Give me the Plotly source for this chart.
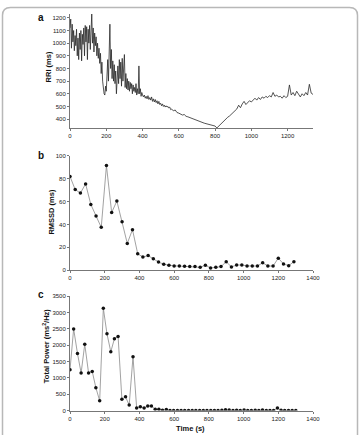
import plotly.graph_objects as go

# ---------------- DATA ----------------
# Panel a: RRI (ms) time series (segments with fixed sampling step)
rri_seg1_t0, rri_seg1_step = 0, 4
rri_seg1 = [1120, 1190, 960, 1150, 1010, 1100,
            940, 1060, 980, 1110, 900,
            1040, 870, 1080, 950, 1100,
            860, 1070, 990, 1120, 900,
            1140, 1010, 1130, 870, 1110,
            1000, 1140, 950, 1100, 1230,
            1000, 1120, 930, 1080, 980,
            1050, 900, 1000, 880, 960,
            840, 920, 760, 850, 700,
            640, 600, 590, 660, 620,
            760, 870, 700, 880, 1150,
            800, 950, 720, 860, 700,
            830, 680, 780, 600, 750,
            820, 680, 870, 720, 850,
            660, 880, 700, 800, 910,
            650, 760, 640, 720, 630,
            700, 620, 690, 640, 680,
            600, 670, 620, 650, 610,
            680, 590, 640, 600, 820,
            600, 640, 580, 610, 590]
rri_seg2_t0, rri_seg2_step = 405, 5
rri_seg2 = [575, 590, 565, 580, 560, 585, 555, 570, 550, 575, 540, 560, 535, 555, 530, 545,
            520, 540, 515, 525, 505, 520, 500, 510, 495, 505, 495, 500, 488, 495, 475, 480]
rri_seg3_t0, rri_seg3_step = 570, 10
rri_seg3 = [465, 472, 452, 447, 440, 432, 436, 422, 418, 412, 405, 400, 393, 390, 383, 378,
            374, 368, 364, 360, 356, 351, 349, 345, 330]
rri_seg4_t0, rri_seg4_step = 820, 10
rri_seg4 = [345, 360, 375, 390, 400, 415, 425, 440, 450, 465, 480, 510, 490, 520, 540, 515,
            530, 545, 535, 550, 565, 550, 570, 555, 575, 565, 580, 570, 585, 575, 610, 580,
            590, 575, 580, 565, 585, 570, 580, 670, 590, 610, 585, 620, 595, 575, 600, 585,
            610, 590, 675, 605, 595]

# Panel b: RMSSD (ms), one value every 30 s
rmssd_t = [0, 30, 60, 90, 120, 150, 180, 210, 240, 270, 300, 330, 360, 390, 420, 450, 480,
           510, 540, 570, 600, 630, 660, 690, 720, 750, 780, 810, 840, 870, 900, 930, 960,
           990, 1020, 1050, 1080, 1110, 1140, 1170, 1200, 1230, 1260, 1290]
rmssd = [82, 70.5, 67.5, 75.5, 57.5, 47.5, 37.5, 91.5, 50.5, 60.5, 42.5, 23.5, 35.5, 14.5,
         11.5, 12.8, 10, 7.2, 5.2, 4.4, 3.8, 3.7, 3.4, 3.2, 3.2, 2.6, 4.3, 2, 2.6, 3.2, 7.5,
         2.9, 4.6, 4.6, 3.8, 3.7, 3.7, 6.6, 3.7, 3.7, 10.6, 5.5, 4, 7.5]

# Panel c: Total power (ms^2/Hz)
tp_t = [0, 21, 43, 64, 85, 107, 128, 149, 171, 192, 213, 235, 256, 277, 299, 320, 341, 363,
        384, 405, 427, 448, 469, 491, 512, 533, 555, 576, 597, 619, 640, 661, 683, 704, 725,
        747, 768, 789, 811, 832, 853, 875, 896, 917, 939, 960, 981, 1003, 1024, 1045, 1067,
        1088, 1109, 1131, 1152, 1173, 1195, 1216, 1237, 1259, 1280, 1301]
tp = [1250, 2500, 1750, 1150, 2030, 1150, 1200, 700, 300, 3130, 2350, 1800, 2200, 2270, 350,
      420, 170, 1650, 80, 120, 80, 140, 140, 40, 40, 10, 30, 5, 5, 5, 5, 5, 5, 5, 5, 5, 5, 5,
      5, 5, 5, 10, 25, 15, 5, 10, 5, 20, 5, 5, 10, 5, 20, 5, 5, 5, 80, 10, 5, 5, 5, 5]

a_yticks = [400, 500, 600, 700, 800, 900, 1000, 1100, 1200]
a_xticks = [0, 200, 400, 600, 800, 1000, 1200]
b_yticks = [0, 20, 40, 60, 80, 100]
c_yticks = [0, 500, 1000, 1500, 2000, 2500, 3000, 3500]
bc_xticks = [0, 200, 400, 600, 800, 1000, 1200, 1400]

# ---------------- build series ----------------
rri_t, rri = [], []
for t0, st, vals in [(rri_seg1_t0, rri_seg1_step, rri_seg1), (rri_seg2_t0, rri_seg2_step, rri_seg2),
                     (rri_seg3_t0, rri_seg3_step, rri_seg3), (rri_seg4_t0, rri_seg4_step, rri_seg4)]:
    for i, v in enumerate(vals):
        rri_t.append(t0 + i * st)
        rri.append(v)

# ---------------- layout geometry ----------------
W, H = 360, 435
L, R = 70, 47
PW = W - L - R

def px(x):
    return (x - L) / PW

def py(y):
    return 1 - y / H

FONT = "Arial, Liberation Sans, Helvetica, sans-serif"

fig = go.Figure()
fig.add_trace(go.Scatter(x=rri_t, y=rri, mode="lines", line=dict(color="#2a2a2a", width=0.8),
                         xaxis="x", yaxis="y", showlegend=False))
fig.add_trace(go.Scatter(x=rmssd_t, y=rmssd, mode="lines+markers",
                         line=dict(color="#8a8a8a", width=0.8),
                         marker=dict(color="#111", size=3.5, symbol="circle"),
                         xaxis="x2", yaxis="y2", showlegend=False))
fig.add_trace(go.Scatter(x=tp_t, y=tp, mode="lines+markers",
                         line=dict(color="#8a8a8a", width=0.8),
                         marker=dict(color="#111", size=3.5, symbol="circle"),
                         xaxis="x3", yaxis="y3", showlegend=False))

ax_common = dict(showline=True, linecolor="#777", linewidth=1, ticks="outside", ticklen=2,
                 tickcolor="#777", tickwidth=1, showgrid=False, zeroline=False,
                 tickfont=dict(family=FONT, size=6, color="#222"), fixedrange=True)

fig.update_layout(
    width=W, height=H, margin=dict(l=L, r=R, t=0, b=0),
    paper_bgcolor="white", plot_bgcolor="white",
    xaxis=dict(ax_common, domain=[0, 1], range=[0, 1340], tickvals=a_xticks, anchor="y"),
    yaxis=dict(ax_common, domain=[py(126.7), py(11.2)], range=[330, 1230], tickvals=a_yticks, anchor="x"),
    xaxis2=dict(ax_common, domain=[0, 1], range=[0, 1400], tickvals=bc_xticks, anchor="y2"),
    yaxis2=dict(ax_common, domain=[py(271), py(155)], range=[0, 100], tickvals=b_yticks, anchor="x2"),
    xaxis3=dict(ax_common, domain=[0, 1], range=[0, 1400], tickvals=bc_xticks, anchor="y3"),
    yaxis3=dict(ax_common, domain=[py(413.3), py(297.3)], range=[0, 3500], tickvals=c_yticks, anchor="x3"),
)

def ann(text, x, y, size=7.5, angle=0, bold=True):
    fig.add_annotation(text=f"<b>{text}</b>" if bold else text, x=px(x), y=py(y),
                       xref="paper", yref="paper", showarrow=False, textangle=angle,
                       xanchor="center", yanchor="middle",
                       font=dict(family=FONT, size=size, color="#111"))

ann("RRI (ms)", 48.3, 65, angle=-90)
ann("RMSSD (ms)", 51.5, 212, angle=-90)
ann("Total Power (ms<sup>2</sup>/Hz)", 46, 348, angle=-90)
ann("Time (s)", 190, 431)
ann("a", 41, 14.5, size=10)
ann("b", 41, 154.5, size=10)
ann("c", 41, 296, size=10)

# rounded frame
x0, x1, y0, y1, r = 2.5, 357.5, 4.5, 470, 8
path = (f"M {px(x0 + r)},{py(y0)} L {px(x1 - r)},{py(y0)} Q {px(x1)},{py(y0)} {px(x1)},{py(y0 + r)} "
        f"L {px(x1)},{py(y1)} L {px(x0)},{py(y1)} L {px(x0)},{py(y0 + r)} "
        f"Q {px(x0)},{py(y0)} {px(x0 + r)},{py(y0)} Z")
fig.add_shape(type="path", path=path, xref="paper", yref="paper",
              line=dict(color="#b8b8b8", width=1.5), fillcolor="rgba(0,0,0,0)")

fig.write_html("out.html")
